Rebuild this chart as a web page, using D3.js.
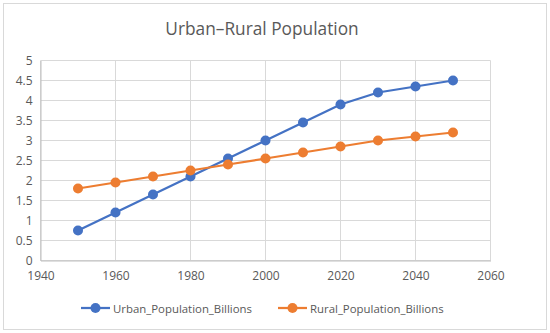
<!DOCTYPE html>
<html><head><meta charset="utf-8">
<script src="https://cdn.jsdelivr.net/npm/d3@7"></script>
<style>body{margin:0;background:#fff}svg{display:block}text{font-family:"Open Sans","Noto Sans",sans-serif;fill:#595959}</style>
</head><body>
<script>
const years = [1950,1960,1970,1980,1990,2000,2010,2020,2030,2040,2050];
const urban = [0.75,1.2,1.65,2.1,2.55,3.0,3.45,3.9,4.2,4.35,4.5];
const rural = [1.8,1.95,2.1,2.25,2.4,2.55,2.7,2.85,3.0,3.1,3.2];
const seriesNames = ["Urban_Population_Billions","Rural_Population_Billions"];
const xTicks = [1940,1960,1980,2000,2020,2040,2060];
const yTicks = [0,0.5,1,1.5,2,2.5,3,3.5,4,4.5,5];
const colors = ["#4472C4","#ED7D31"];

const W=550,H=333;
const svg=d3.select("body").append("svg").attr("width",W).attr("height",H);
svg.append("rect").attr("x",3.5).attr("y",3.5).attr("width",543).attr("height",326).attr("fill","#fff").attr("stroke","#d9d9d9");
svg.append("text").attr("x",262).attr("y",35).attr("text-anchor","middle").style("font-size","17.3px").text("Urban–Rural Population");

const x=d3.scaleLinear().domain([1940,2060]).range([40.5,490.5]);
const y=d3.scaleLinear().domain([0,5]).range([260.5,60.5]);

const g=svg.append("g");
g.selectAll(".hg").data(yTicks).join("line").attr("x1",x(1940)).attr("x2",x(2060)).attr("y1",d=>y(d)).attr("y2",d=>y(d)).attr("stroke","#d9d9d9");
g.selectAll(".vg").data(xTicks).join("line").attr("y1",y(0)).attr("y2",y(5)).attr("x1",d=>x(d)).attr("x2",d=>x(d)).attr("stroke","#d9d9d9");

const yAxis=svg.append("g").attr("transform",`translate(${x(1940)},0)`).call(d3.axisLeft(y).tickValues(yTicks).tickSize(0).tickPadding(8).tickFormat(d=>String(d)));
yAxis.select(".domain").attr("stroke","#bfbfbf");
yAxis.selectAll("text").style("font-size","12px").attr("fill","#595959");
const xAxis=svg.append("g").attr("transform",`translate(0,${y(0)})`).call(d3.axisBottom(x).tickValues(xTicks).tickSize(0).tickPadding(11).tickFormat(d3.format("d")));
xAxis.select(".domain").attr("stroke","#bfbfbf");
xAxis.selectAll("text").style("font-size","12px").attr("fill","#595959");

const data=[urban,rural];
const line=d3.line().x((d,i)=>x(years[i])).y(d=>y(d));
data.forEach((s,k)=>{
  svg.append("path").datum(s).attr("d",line).attr("fill","none").attr("stroke",colors[k]).attr("stroke-width",2.25);
  svg.selectAll(".m"+k).data(s).join("circle").attr("cx",(d,i)=>x(years[i])).attr("cy",d=>y(d)).attr("r",5).attr("fill",colors[k]);
});

const legX=[81,278];
seriesNames.forEach((n,k)=>{
  const lg=svg.append("g").attr("transform",`translate(${legX[k]},308)`);
  lg.append("line").attr("x1",0).attr("x2",29).attr("stroke",colors[k]).attr("stroke-width",2.25);
  lg.append("circle").attr("cx",14.5).attr("r",5).attr("fill",colors[k]);
  lg.append("text").attr("x",32).attr("y",4.5).style("font-size","11.4px").text(n);
});
</script>
</body></html>
